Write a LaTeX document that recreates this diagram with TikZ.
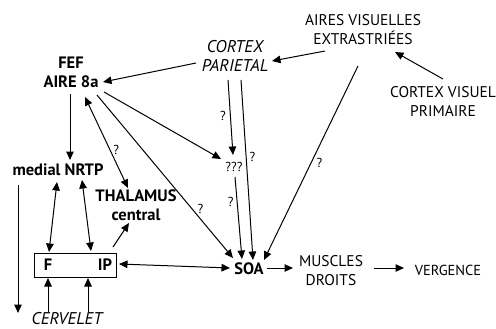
\documentclass[tikz,border=0pt]{standalone}
\usepackage{fontspec}
\setmainfont{PT Sans}
\usetikzlibrary{arrows.meta,calc}
\begin{document}
\begin{tikzpicture}[x=1pt,y=-1pt,
  lbl/.style={inner sep=0pt,align=center,font=\fontsize{15.5}{19}\selectfont},
  blbl/.style={lbl,font=\fontsize{16.5}{19}\selectfont\bfseries},
  ilbl/.style={lbl,font=\fontsize{17}{19}\selectfont\itshape},
  q/.style={inner sep=0pt,font=\fontsize{13}{14}\selectfont},
  arr/.style={-{Triangle[length=8.5pt,width=7.5pt]},line width=1pt},
  darr/.style={{Triangle[length=8.5pt,width=7.5pt]}-{Triangle[length=8.5pt,width=7.5pt]},line width=1pt}]
\useasboundingbox (0,0) rectangle (496,329);
\node[blbl] (fef) at (71,72) {FEF\\AIRE 8a};
\node[ilbl] (par) at (235,56) {CORTEX\\PARIETAL};
\node[lbl] (aires) at (363,30) {AIRES VISUELLES\\EXTRASTRIÉES};
\node[lbl] (cvp) at (443,101) {CORTEX VISUEL\\PRIMAIRE};
\node[blbl] (nrtp) at (58,170) {medial NRTP};
\node[blbl] (thal) at (136,205) {THALAMUS\\central};
\node[draw,line width=1pt,minimum width=82pt,minimum height=24pt,inner sep=0pt] (box) at (75,265) {};
\node[blbl] (F) at (48,265) {F};
\node[blbl] (IP) at (105,265) {IP};
\node[blbl] (soa) at (249,269) {SOA};
\node[lbl] (mus) at (331,271) {MUSCLES\\DROITS};
\node[lbl,font=\fontsize{14.5}{17}\selectfont] (verg) at (448,270) {VERGENCE};
\node[ilbl] (cerv) at (67,319) {CERVELET};
\node[q] (qqq) at (234,167) {???};
\coordinate (down) at (18,313);
% connectors
\draw[arr] ($(par)+(-39,7)$) -- ($(fef)+(32,10)$);
\draw[arr] ($(aires)+(-38,21)$) -- ($(par)+(37,5)$);
\draw[arr] ($(cvp)+(0,-22)$) -- ($(aires)+(32,22)$);
\draw[arr] ($(fef)+(-1,22)$) -- ($(nrtp)+(12,-10)$);
\draw[arr] ($(fef)+(33,20)$) -- ($(qqq)+(-13,-8)$);
\draw[darr] ($(fef)+(14,25)$) -- node[q,pos=0.58,right=3pt] {?} ($(thal)+(-8,-17)$);
\draw[arr] ($(fef)+(26,23)$) -- node[q,pos=0.7,right=5pt] {?} ($(soa)+(-16,-11)$);
\draw[arr] ($(par)+(-7,24)$) -- node[q,pos=0.48,left=4pt] {?} ($(qqq)+(-1,-12)$);
\draw[arr] ($(par)+(6,24)$) -- node[q,pos=0.43,right=3pt] {?} ($(soa)+(4,-9)$);
\draw[arr] ($(qqq)+(1,10)$) -- node[q,pos=0.3,left=3pt] {?} ($(soa)+(-7,-10)$);
\draw[arr] ($(aires)+(-5,36)$) -- node[q,pos=0.5,right=5pt] {?} ($(soa)+(15,-9)$);
\draw[darr] ($(nrtp)+(-1,12)$) -- ($(F)+(1,-13)$);
\draw[darr] ($(nrtp)+(24,10)$) -- ($(IP)+(-14,-14)$);
\draw[arr] ($(IP)+(8,-18)$) -- ($(thal)+(-7,18)$);
\draw[darr] ($(IP)+(14,-1)$) -- ($(soa)+(-19,-1)$);
\draw[arr] ($(soa)+(18,-1)$) -- ($(mus)+(-38,-3)$);
\draw[arr] ($(mus)+(43,-3)$) -- ($(verg)+(-44,-2)$);
\draw[arr] ($(cerv)+(-19,-7)$) -- ($(F)+(0,13)$);
\draw[arr] ($(cerv)+(21,-7)$) -- ($(IP)+(-17,13)$);
\draw[arr] ($(nrtp)+(-40,15)$) -- (down);
\end{tikzpicture}
\end{document}
